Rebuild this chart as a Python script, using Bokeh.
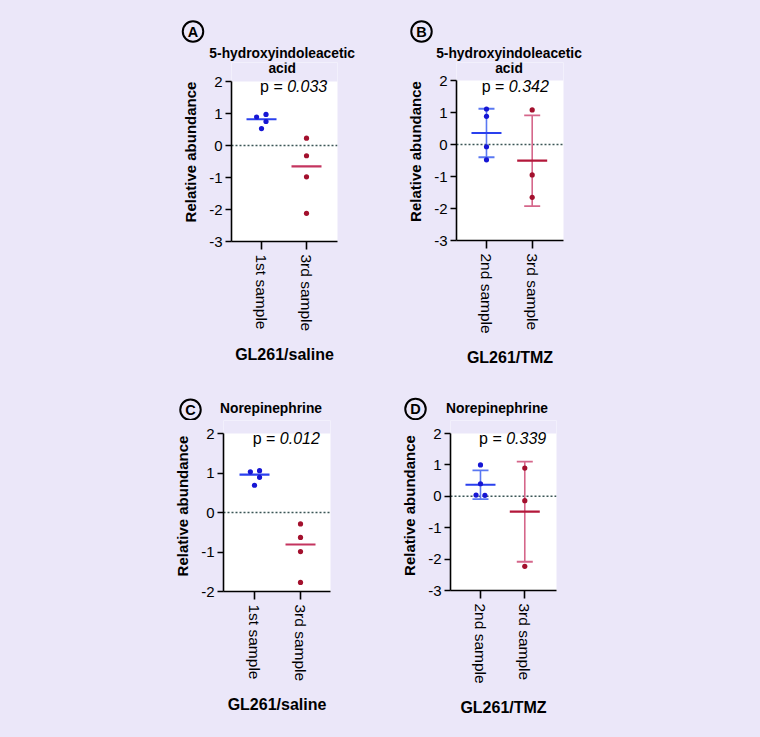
import numpy as np
from bokeh.plotting import figure
from bokeh.layouts import row, column
from bokeh.models import Range1d, FixedTicker, Span, Label, BoxAnnotation
from bokeh.core.properties import value
from bokeh.embed import file_html
from bokeh.resources import INLINE

FONT = "Liberation Sans"
BG = "#ebe7f9"

# ---------------- data ----------------
# Panel A
a_letter = "A"
a_title = ["5-hydroxyindoleacetic", "acid"]
a_group = "GL261/saline"
a_categories = ["1st sample", "3rd sample"]
a_cat1 = [0.89, 0.97, 0.75, 0.53]
a_cat1_jitter = [-0.11, 0.10, 0.10, 0.0]
a_cat2 = [0.23, -0.32, -0.98, -2.12]
a_cat2_jitter = [0.0, 0.0, 0.0, 0.0]
a_p = "0.033"
a_yticks = [-3, -2, -1, 0, 1, 2]

# Panel B
b_letter = "B"
b_title = ["5-hydroxyindoleacetic", "acid"]
b_group = "GL261/TMZ"
b_categories = ["2nd sample", "3rd sample"]
b_cat1 = [1.11, 0.88, -0.07, -0.48]
b_cat1_jitter = [0.0, 0.0, 0.0, 0.0]
b_cat2 = [1.08, -0.95, -1.65]
b_cat2_jitter = [0.0, 0.0, 0.0]
b_p = "0.342"
b_yticks = [-3, -2, -1, 0, 1, 2]

# Panel C
c_letter = "C"
c_title = ["Norepinephrine"]
c_group = "GL261/saline"
c_categories = ["1st sample", "3rd sample"]
c_cat1 = [1.03, 1.06, 0.89, 0.69]
c_cat1_jitter = [-0.09, 0.11, 0.11, 0.0]
c_cat2 = [-0.29, -0.63, -0.99, -1.77]
c_cat2_jitter = [0.0, 0.0, 0.0, 0.0]
c_p = "0.012"
c_yticks = [-2, -1, 0, 1, 2]

# Panel D
d_letter = "D"
d_title = ["Norepinephrine"]
d_group = "GL261/TMZ"
d_categories = ["2nd sample", "3rd sample"]
d_cat1 = [1.00, 0.40, 0.04, 0.03]
d_cat1_jitter = [0.0, 0.0, -0.10, 0.10]
d_cat2 = [0.90, -0.14, -2.23]
d_cat2_jitter = [0.0, 0.0, 0.0]
d_p = "0.339"
d_yticks = [-3, -2, -1, 0, 1, 2]

# ---------------- styles ----------------
BLUE_PT = "#1616d4"
BLUE_LINE = "#2a40ee"
BLUE_ERR = "#5a78f2"
RED_PT = "#a3102d"
RED_MED = "#c4345f"
RED_MEAN = "#b3173a"
RED_ERR = "#d5668a"

# layout (page pixels): header = (x, y, w, h); plot fig = (x, y, w, h);
# axis box = (left, y of top tick, width, height between bottom and top tick)
panels = [
    dict(letter=a_letter, title=a_title, group=a_group, cats=a_categories,
         s1=(a_cat1, a_cat1_jitter), s2=(a_cat2, a_cat2_jitter), p=a_p, yticks=a_yticks,
         stat="median", header=(0, 0, 395, 62), fig=(0, 62, 395, 308), frame=(231, 81, 106, 160),
         xr=(0.333, 2.689), circle=(192.5, 31), title_x=281.7, title_mid=[52.5, 67.8],
         p_x=286.7, p_mid=85.7),
    dict(letter=b_letter, title=b_title, group=b_group, cats=b_categories,
         s1=(b_cat1, b_cat1_jitter), s2=(b_cat2, b_cat2_jitter), p=b_p, yticks=b_yticks,
         stat="mean_sd", header=(395, 0, 365, 62), fig=(395, 62, 365, 308), frame=(456, 80, 107, 160),
         xr=(0.344, 2.685), circle=(421, 31), title_x=508.5, title_mid=[52.5, 67.8],
         p_x=508.3, p_mid=85.7),
    dict(letter=c_letter, title=c_title, group=c_group, cats=c_categories,
         s1=(c_cat1, c_cat1_jitter), s2=(c_cat2, c_cat2_jitter), p=c_p, yticks=c_yticks,
         stat="median", header=(0, 370, 395, 50), fig=(0, 420, 395, 316), frame=(223, 433, 107, 158),
         xr=(0.326, 2.652), circle=(190, 409.3), title_x=270.5, title_mid=[407.5],
         p_x=279.3, p_mid=437.7),
    dict(letter=d_letter, title=d_title, group=d_group, cats=d_categories,
         s1=(d_cat1, d_cat1_jitter), s2=(d_cat2, d_cat2_jitter), p=d_p, yticks=d_yticks,
         stat="mean_sd", header=(395, 370, 365, 50), fig=(395, 420, 365, 316), frame=(450, 433, 106, 157),
         xr=(0.323, 2.716), circle=(415, 408.5), title_x=496.5, title_mid=[407.5],
         p_x=505.7, p_mid=437.7),
]


def no_align(p):
    if "frame_align" in p.properties():
        p.frame_align = False


def build_header(cfg):
    hx, hy, hw, hh = cfg["header"]
    h = figure(width=hw, height=hh, x_range=Range1d(0, hw), y_range=Range1d(hh, 0),
               x_axis_type=None, y_axis_type=None, output_backend="svg",
               toolbar_location=None, min_border=0)
    h.min_border_left = h.min_border_right = h.min_border_top = h.min_border_bottom = 0
    no_align(h)
    h.background_fill_color = BG
    h.border_fill_color = BG
    h.outline_line_color = None
    # circled panel letter
    cx, cy = cfg["circle"]
    h.scatter(x=[cx - hx], y=[cy - hy], marker="circle", size=20.5, fill_color=None,
              line_color="black", line_width=2)
    h.text(x=[cx - hx], y=[cy - hy], text=[cfg["letter"]], text_font=value(FONT),
           text_font_size="14.5px", text_font_style="bold", text_align="center",
           text_baseline="middle", text_color="black")
    # first title line (further lines sit lower, over the plot area)
    h.text(x=[cfg["title_x"] - hx], y=[cfg["title_mid"][0] - hy], text=[cfg["title"][0]],
           text_font=value(FONT), text_font_size="13.8px", text_font_style="bold",
           text_align="center", text_baseline="middle", text_color="black")
    return h


def build_plot(cfg):
    ox, oy, W, H = cfg["fig"]
    fl, ft, fw, fh = cfg["frame"]
    x0, x1 = cfg["xr"]
    y0, y1 = min(cfg["yticks"]), max(cfg["yticks"])
    ppu = fh / (y1 - y0)              # pixels per unit
    ytop = y1 + (ft - oy) / ppu      # frame starts right under the header
    ftop = oy
    fhh = fh + (ft - oy)
    left = fl - ox
    p = figure(width=W, height=H, x_range=Range1d(x0, x1), y_range=Range1d(y0, ytop),
               output_backend="svg", toolbar_location=None,
               min_border_left=left, min_border_top=0,
               min_border_right=W - left - fw, min_border_bottom=H - fhh)
    no_align(p)
    p.title.visible = False
    p.background_fill_color = "white"
    p.border_fill_color = BG
    p.outline_line_color = None
    p.xgrid.visible = False
    p.ygrid.visible = False

    def dx(sx):
        return x0 + (sx - fl) / fw * (x1 - x0)

    def dy(sy):
        return ytop - (sy - ftop) / ppu

    # strip above the top tick keeps the page colour
    p.add_layout(BoxAnnotation(bottom=y1, fill_color=BG, fill_alpha=1.0, line_alpha=0,
                               level="underlay"))
    # zero line
    p.add_layout(Span(location=0, dimension="width", line_color="#3b5656",
                      line_dash="2 2", line_width=1.5, level="underlay"))

    series = [(1, cfg["s1"], BLUE_PT, BLUE_LINE, BLUE_ERR),
              (2, cfg["s2"], RED_PT, RED_MED if cfg["stat"] == "median" else RED_MEAN, RED_ERR)]
    for pos, (vals, jit), cpt, cline, cerr in series:
        v = np.array(vals, dtype=float)
        if cfg["stat"] == "mean_sd":
            m = float(np.mean(v))
            sd = float(np.std(v, ddof=1))
            p.segment(x0=[pos], y0=[m - sd], x1=[pos], y1=[m + sd],
                      line_color=cerr, line_width=1.6)
            p.scatter(x=[pos, pos], y=[m - sd, m + sd], marker="dash", size=16,
                      line_color=cerr, line_width=1.8)
            center = m
        else:
            center = float(np.median(v))
        p.scatter(x=[pos], y=[center], marker="dash", size=30,
                  line_color=cline, line_width=2.2)
        xs = [pos + j for j in jit]
        p.scatter(x=xs, y=list(v), size=5.2, fill_color=cpt, line_color=None)

    # axes
    ya = p.yaxis[0]
    ya.bounds = (y0, y1)
    ya.ticker = FixedTicker(ticks=cfg["yticks"])
    ya.major_label_overrides = {t: str(t) for t in cfg["yticks"]}
    ya.minor_tick_line_color = None
    ya.axis_line_width = 1.6
    ya.axis_line_color = "black"
    ya.major_tick_line_width = 1.6
    ya.major_tick_out = 6
    ya.major_tick_in = 0
    ya.major_label_standoff = 3
    ya.major_label_text_font = FONT
    ya.major_label_text_font_size = "15px"
    ya.major_label_text_color = "black"
    ya.axis_label = "Relative abundance"
    ya.axis_label_text_font = FONT
    ya.axis_label_text_font_size = "15px"
    ya.axis_label_text_font_style = "bold"
    ya.axis_label_text_color = "black"
    ya.axis_label_standoff = 7

    xa = p.xaxis[0]
    xa.ticker = FixedTicker(ticks=[1, 2])
    xa.major_label_overrides = {1: cfg["cats"][0], 2: cfg["cats"][1]}
    xa.minor_tick_line_color = None
    xa.axis_line_width = 1.6
    xa.axis_line_color = "black"
    xa.major_tick_line_width = 1.6
    xa.major_tick_out = 8
    xa.major_tick_in = 0
    xa.major_label_orientation = "vertical"
    xa.major_label_standoff = 5
    xa.major_label_text_font = FONT
    xa.major_label_text_font_size = "15.5px"
    xa.major_label_text_color = "black"
    xa.axis_label = cfg["group"]
    xa.axis_label_text_font = FONT
    xa.axis_label_text_font_size = "16px"
    xa.axis_label_text_font_style = "bold"
    xa.axis_label_text_color = "black"
    xa.axis_label_standoff = 12

    # remaining title lines
    for line, mid in zip(cfg["title"][1:], cfg["title_mid"][1:]):
        p.add_layout(Label(x=dx(cfg["title_x"]), y=dy(mid), text=line,
                           text_font=FONT, text_font_size="13.8px", text_font_style="bold",
                           text_align="center", text_baseline="middle", text_color="black"))

    # p value
    p.add_layout(Label(x=dx(cfg["p_x"] - 4.4), y=dy(cfg["p_mid"]), text="p =",
                       text_font=FONT, text_font_size="16px", text_align="right",
                       text_baseline="middle", text_color="black"))
    p.add_layout(Label(x=dx(cfg["p_x"]), y=dy(cfg["p_mid"]), text=cfg["p"],
                       text_font=FONT, text_font_size="16px", text_font_style="italic",
                       text_align="left", text_baseline="middle", text_color="black"))
    return p


heads = [build_header(c) for c in panels]
plots = [build_plot(c) for c in panels]
layout = column(row(heads[0], heads[1]), row(plots[0], plots[1]),
                row(heads[2], heads[3]), row(plots[2], plots[3]))

html = file_html(layout, INLINE)
html = html.replace("</head>",
                    "<style>html, body {margin: 0; background-color: %s;}</style></head>" % BG, 1)
open("out.html", "w").write(html)
